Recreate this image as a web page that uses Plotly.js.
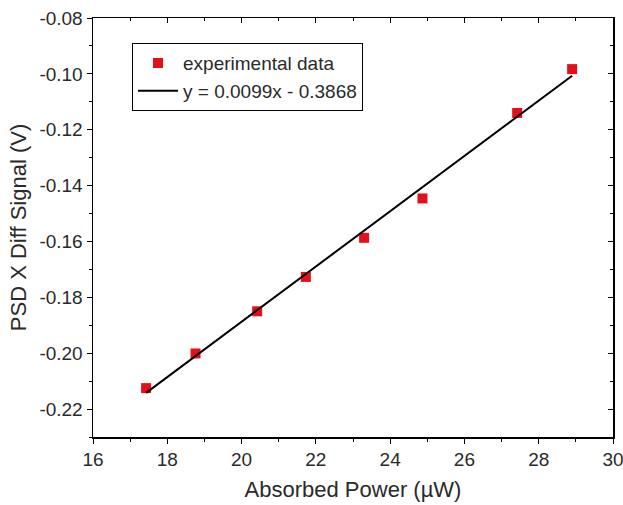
<!DOCTYPE html>
<html>
<head>
<meta charset="utf-8">
<script src="https://cdn.plot.ly/plotly-3.0.1.min.js"></script>
<style>html,body{margin:0;padding:0;background:#fff;}</style>
</head>
<body>
<div id="chart" style="width:623px;height:505px;"></div>
<script>
// Data
const absorbedPower = [17.43, 18.76, 20.42, 21.73, 23.30, 24.87, 27.42, 28.90]; // µW
const psdSignal = [-0.2125, -0.2001, -0.1850, -0.1727, -0.1587, -0.1446, -0.1140, -0.0983]; // V
const fitX = [17.43, 28.90];
const fitY = [-0.2142, -0.1007];
const fitLabel = "y = 0.0099x - 0.3868";
const dataLabel = "experimental data";
const xTicks = [16, 18, 20, 22, 24, 26, 28, 30];
const yTicks = [-0.22, -0.20, -0.18, -0.16, -0.14, -0.12, -0.10, -0.08];

const FONT = "Liberation Sans, Arial, sans-serif";
const TXT = "#2a2a2a";

const traces = [
  {
    x: absorbedPower, y: psdSignal, type: "scatter", mode: "markers",
    name: dataLabel,
    marker: {symbol: "square", size: 10, color: "#e3101a"}
  },
  {
    x: fitX, y: fitY, type: "scatter", mode: "lines",
    name: fitLabel,
    line: {color: "#000", width: 2}
  }
];

const layout = {
  width: 623, height: 505,
  margin: {l: 93, r: 10, t: 18, b: 68},
  paper_bgcolor: "#fff", plot_bgcolor: "#fff",
  font: {family: FONT, color: TXT},
  showlegend: true,
  legend: {
    x: 0.075, y: 0.94, xanchor: "left", yanchor: "top",
    bgcolor: "#fff", bordercolor: "#000", borderwidth: 1,
    font: {family: FONT, size: 19, color: TXT},
    itemwidth: 40, tracegroupgap: 0
  },
  xaxis: {
    range: [16, 30], tickvals: xTicks, ticktext: xTicks.map(String),
    showgrid: false, zeroline: false, ticklabeloverflow: "allow",
    showline: true, linecolor: "#000", linewidth: 1.5, mirror: true,
    ticks: "outside", ticklen: 5, tickwidth: 1, tickcolor: "#000",
    minor: {dtick: 1, tick0: 17, ticks: "outside", ticklen: 3, tickcolor: "#000", showgrid: false},
    tickfont: {family: FONT, size: 19, color: TXT},
    title: {text: "Absorbed Power (µW)", font: {family: FONT, size: 22, color: TXT}, standoff: 12}
  },
  yaxis: {
    range: [-0.23, -0.08], tickvals: yTicks, ticktext: yTicks.map(v => v.toFixed(2)),
    showgrid: false, zeroline: false, ticklabeloverflow: "allow",
    showline: true, linecolor: "#000", linewidth: 1.5, mirror: true,
    ticks: "outside", ticklen: 5, tickwidth: 1, tickcolor: "#000",
    minor: {dtick: 0.01, tick0: -0.09, ticks: "outside", ticklen: 3, tickcolor: "#000", showgrid: false},
    tickfont: {family: FONT, size: 19, color: TXT},
    title: {text: "PSD X Diff Signal (V)", font: {family: FONT, size: 22, color: TXT}, standoff: 6}
  },
  xaxis2: {
    overlaying: "x", side: "top", range: [16, 30], tickvals: xTicks,
    showticklabels: false, showgrid: false, zeroline: false, showline: false,
    ticks: "inside", ticklen: 5, tickcolor: "#000",
    minor: {dtick: 1, tick0: 17, ticks: "inside", ticklen: 3, tickcolor: "#000", showgrid: false}
  },
  yaxis2: {
    overlaying: "y", side: "right", range: [-0.23, -0.08], tickvals: yTicks,
    showticklabels: false, showgrid: false, zeroline: false, showline: false,
    ticks: "inside", ticklen: 5, tickcolor: "#000",
    minor: {dtick: 0.01, tick0: -0.09, ticks: "inside", ticklen: 3, tickcolor: "#000", showgrid: false}
  }
};

// invisible helper trace so the mirrored tick axes are drawn
traces.push({x: [16], y: [-0.23], xaxis: "x2", yaxis: "y2", mode: "markers",
  marker: {opacity: 0}, showlegend: false, hoverinfo: "skip"});

Plotly.newPlot("chart", traces, layout, {displayModeBar: false, staticPlot: true});
</script>
</body>
</html>
